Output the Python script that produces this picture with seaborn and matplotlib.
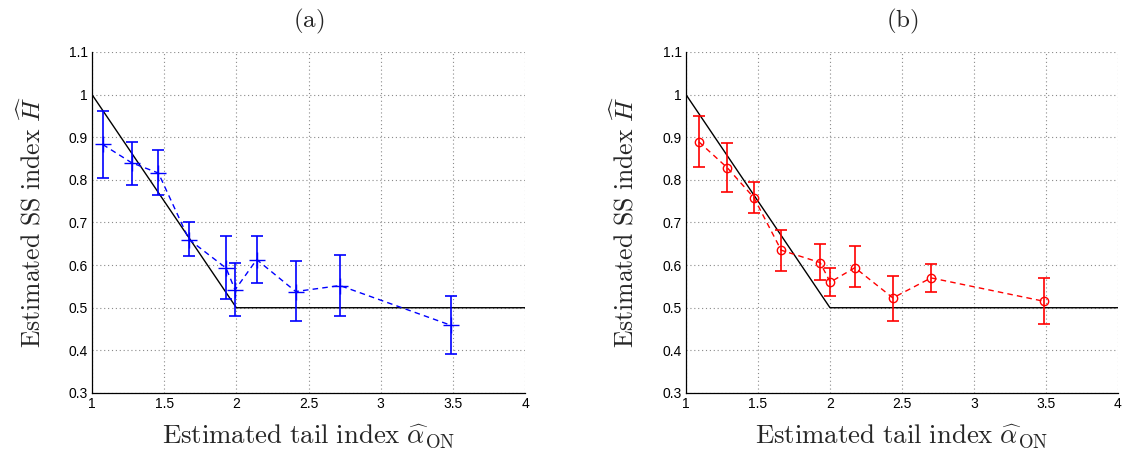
import numpy as np
import pandas as pd
import matplotlib
matplotlib.use("Agg")
import matplotlib.pyplot as plt
import seaborn as sns

# ---- data ----
theory_alpha = [1.0, 2.0, 4.0]
theory_H = [1.0, 0.5, 0.5]

a_alpha = [1.074, 1.275, 1.46, 1.672, 1.929, 1.991, 2.141, 2.411, 2.718, 3.485]
a_H     = [0.883, 0.840, 0.816, 0.660, 0.593, 0.542, 0.613, 0.538, 0.552, 0.459]
a_top   = [0.961, 0.889, 0.869, 0.700, 0.668, 0.605, 0.668, 0.610, 0.623, 0.528]
a_bot   = [0.804, 0.789, 0.765, 0.622, 0.520, 0.481, 0.558, 0.468, 0.481, 0.391]

b_alpha = [1.09, 1.288, 1.472, 1.661, 1.931, 2.002, 2.173, 2.437, 2.702, 3.488]
b_H     = [0.889, 0.828, 0.758, 0.635, 0.606, 0.560, 0.594, 0.523, 0.570, 0.515]
b_top   = [0.949, 0.887, 0.795, 0.683, 0.650, 0.593, 0.644, 0.575, 0.603, 0.570]
b_bot   = [0.830, 0.771, 0.722, 0.587, 0.564, 0.528, 0.548, 0.470, 0.536, 0.462]

x_ticks = [1, 1.5, 2, 2.5, 3, 3.5, 4]
y_ticks = [0.3, 0.4, 0.5, 0.6, 0.7, 0.8, 0.9, 1.0, 1.1]
titles = ["(a)", "(b)"]

sns.set_style("white")
plt.rcParams['font.family'] = ['Liberation Sans', 'DejaVu Sans']
plt.rcParams['mathtext.fontset'] = 'cm'

fig = plt.figure(figsize=(11.32, 4.54), dpi=100)
ax_a = fig.add_axes([0.0813, 0.1344, 0.3825, 0.7511])
ax_b = fig.add_axes([0.6060, 0.1344, 0.3816, 0.7511])

def fmt(v):
    return f"{v:g}"

panels = [
    (ax_a, a_alpha, a_H, a_top, a_bot, '#0000ff', '+', 11),
    (ax_b, b_alpha, b_H, b_top, b_bot, '#ff0000', 'o', 6),
]
for i, (ax, xs, hs, tops, bots, col, mk, ms) in enumerate(panels):
    ax.grid(True, linestyle=(0, (1, 2.5)), color='#8a8a8a', lw=0.8)
    ax.set_axisbelow(True)
    tdf = pd.DataFrame({"alpha": theory_alpha, "H": theory_H})
    sns.lineplot(data=tdf, x="alpha", y="H", ax=ax, color='black', lw=1.0, sort=False)
    df = pd.DataFrame({"alpha": xs, "H": hs})
    sns.lineplot(data=df, x="alpha", y="H", ax=ax, color=col, lw=1.0, sort=False,
                 linestyle=(0, (4, 3)), marker=mk, markersize=ms,
                 markerfacecolor='none', markeredgecolor=col, markeredgewidth=1.0)
    lo = np.array(hs) - np.array(bots)
    hi = np.array(tops) - np.array(hs)
    ax.errorbar(xs, hs, yerr=[lo, hi], fmt='none', ecolor=col, elinewidth=1.2,
                capsize=4, capthick=1.2)
    ax.set_xlim(1, 4)
    ax.set_ylim(0.3, 1.1)
    ax.set_xticks(x_ticks)
    ax.set_xticklabels([fmt(v) for v in x_ticks])
    ax.set_yticks(y_ticks)
    ax.set_yticklabels([fmt(v) for v in y_ticks])
    ax.tick_params(direction='in', length=3, width=0.7, labelsize=10,
                   top=False, right=False, colors='black', pad=3)
    for side in ['top', 'right']:
        ax.spines[side].set_visible(False)
    for side in ['left', 'bottom']:
        ax.spines[side].set_visible(True)
        ax.spines[side].set_color('black')
        ax.spines[side].set_linewidth(0.9)
    ax.set_xlabel(r'$\mathrm{Estimated\ tail\ index\ }\widehat{\alpha}_{\mathrm{ON}}$',
                  fontsize=19.3, labelpad=8)
    ax.set_ylabel(r'$\mathrm{Estimated\ SS\ index\ }\widehat{H}$', fontsize=18.5, labelpad=17)
    ax.set_title(r'$\mathrm{' + titles[i] + '}$', fontsize=18, pad=18)

fig.savefig("out.png", dpi=100)
